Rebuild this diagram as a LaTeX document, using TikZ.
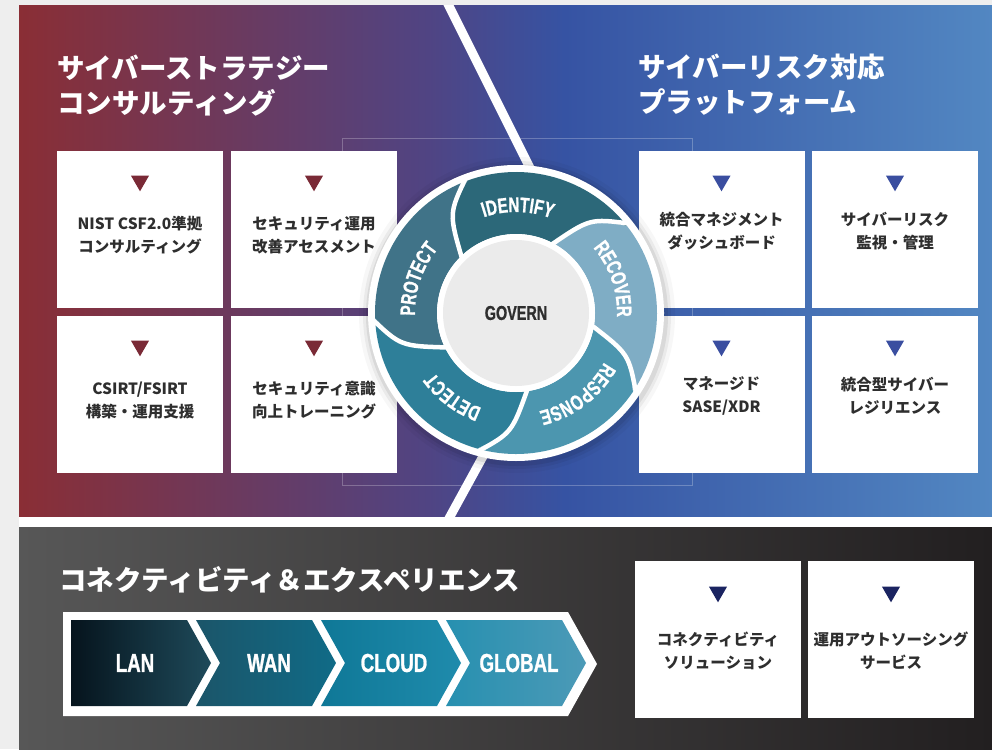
\documentclass[tikz,border=0pt]{standalone}
\usepackage{fontspec}
\setmainfont{Noto Sans CJK JP}
\newfontfamily\condfont{Liberation Sans}[FakeStretch=0.72, FakeBold=1]
\usetikzlibrary{shapes.geometric, decorations.text}

\definecolor{pageGrey}{HTML}{EEEEEE}
\definecolor{panelRed}{HTML}{8A2E35}
\definecolor{panelPurple}{HTML}{504483}
\definecolor{panelBlue}{HTML}{3653A3}
\definecolor{panelSky}{HTML}{5287C2}
\definecolor{darkL}{HTML}{575757}
\definecolor{darkR}{HTML}{221F20}
\definecolor{textGrey}{HTML}{2E2E2E}
\definecolor{triRed}{HTML}{7A2A36}
\definecolor{triBlue}{HTML}{3A4EA0}
\definecolor{triNavy}{HTML}{1B2461}
\definecolor{segIdentify}{HTML}{2C6879}
\definecolor{segRecover}{HTML}{7FADC5}
\definecolor{segResponse}{HTML}{4C96AF}
\definecolor{segDetect}{HTML}{2E7F99}
\definecolor{segProtect}{HTML}{407388}
\definecolor{hubGrey}{HTML}{EBEBEB}
\definecolor{lanL}{HTML}{06141D}
\definecolor{lanR}{HTML}{1E4A5A}
\definecolor{wanL}{HTML}{1B5569}
\definecolor{wanR}{HTML}{106B87}
\definecolor{cloudL}{HTML}{0F7897}
\definecolor{cloudR}{HTML}{1F8BAC}
\definecolor{globL}{HTML}{2790B0}
\definecolor{globR}{HTML}{4C9AB7}

\pgfdeclarehorizontalshading{cyberpanel}{100bp}{color(0bp)=(panelRed); color(25bp)=(panelRed); color(46bp)=(panelPurple); color(53bp)=(panelBlue); color(75bp)=(panelSky); color(100bp)=(panelSky)}

\newcommand{\wheelfont}{\condfont\bfseries\fontsize{21}{21}\selectfont}

\tikzset{
	svcbox/.style={fill=white, minimum width=166pt, minimum height=157pt, inner sep=0pt},
	svctext/.style={text=textGrey, font=\bfseries\fontsize{15.5}{23}\selectfont, align=center, inner sep=0pt},
	marker/.style={regular polygon, regular polygon sides=3, shape border rotate=180, minimum size=21pt, inner sep=0pt},
	heading/.style={text=white, font=\bfseries\fontsize{27.5}{35}\selectfont, align=left, anchor=west, inner sep=0pt},
	chevlabel/.style={text=white, font=\condfont\bfseries\fontsize{26}{26}\selectfont, inner sep=0pt},
}

\begin{document}
\begin{tikzpicture}[x=1pt, y=-1pt]
\useasboundingbox (0,0) rectangle (992,749);

%Background
\fill[pageGrey] (0,0) rectangle (992,749);
\fill[white] (19,516) rectangle (992,527);

%Panels
\shade[shading=cyberpanel] (19,6) rectangle (992,516);
\shade[left color=darkL, right color=darkR] (19,527) rectangle (992,749);

%Divider
\begin{scope}
	\clip (19,6) rectangle (992,516);
	\coordinate (div-top) at (446,0);
	\coordinate (div-apex) at (583,274);
	\coordinate (div-bottom) at (447,522);
	\draw[white, line width=9pt, line join=miter] (div-top) -- (div-apex) -- (div-bottom);
\end{scope}

%Frame
\draw[white, opacity=0.25, line width=0.8pt] (342,138) rectangle (692,485);

%Headings
\node[heading] (strat-head) at (57,86) {サイバーストラテジー\\コンサルティング};
\node[heading] (risk-head) at (638,85) {サイバーリスク対応\\プラットフォーム};
\node[heading] (conn-head) at (59,580) {コネクティビティ＆エクスペリエンス};

%Boxes
\node[svcbox] (csf) at (140,229.5) {};
\node[svcbox] (ops) at (314,229.5) {};
\node[svcbox] (csirt) at (140,394.5) {};
\node[svcbox] (aware) at (314,394.5) {};

\node[svcbox] (dash) at (721.5,229.5) {};
\node[svcbox] (watch) at (895,229.5) {};
\node[svcbox] (sase) at (721.5,394.5) {};
\node[svcbox] (resil) at (895,394.5) {};

\node[svcbox] (conn) at (718,639.5) {};
\node[svcbox] (outs) at (891,639.5) {};

\foreach \b in {csf,ops,csirt,aware}
{
	\node[marker, fill=triRed] (\b-tri) at ([yshift=-30pt]\b.north) {};
}
\foreach \b in {dash,watch,sase,resil}
{
	\node[marker, fill=triBlue] (\b-tri) at ([yshift=-30pt]\b.north) {};
}
\foreach \b in {conn,outs}
{
	\node[marker, fill=triNavy] (\b-tri) at ([yshift=-31pt]\b.north) {};
}

% Box texts
\node[svctext] (csf-txt) at ([yshift=-6pt]csf.center) {NIST CSF2.0準拠\\コンサルティング};
\node[svctext] (ops-txt) at ([yshift=-6pt]ops.center) {セキュリティ運用\\改善アセスメント};
\node[svctext] (csirt-txt) at ([yshift=-6pt]csirt.center) {CSIRT/FSIRT\\構築・運用支援};
\node[svctext] (aware-txt) at ([yshift=-6pt]aware.center) {セキュリティ意識\\向上トレーニング};

\node[svctext] (dash-txt) at ([yshift=-1.5pt]dash.center) {統合マネジメント\\ダッシュボード};
\node[svctext] (watch-txt) at ([yshift=-1.5pt]watch.center) {サイバーリスク\\監視・管理};
\node[svctext] (sase-txt) at ([yshift=-1pt]sase.center) {マネージド\\SASE/XDR};
\node[svctext] (resil-txt) at ([yshift=-1pt]resil.center) {統合型サイバー\\レジリエンス};

\node[svctext] (conn-txt) at ([yshift=-11pt]conn.center) {コネクティビティ\\ソリューション};
\node[svctext] (outs-txt) at ([yshift=-11pt]outs.center) {運用アウトソーシング\\サービス};

%Chevrons
\fill[white] (63,612) -- (568,612) -- (597,664) -- (568,716) -- (63,716) -- cycle;
\foreach \i/\lbl/\cl/\cr in {0/LAN/lanL/lanR, 1/WAN/wanL/wanR, 2/CLOUD/cloudL/cloudR, 3/GLOBAL/globL/globR}
{
	\pgfmathsetmacro{\xa}{71+125*\i}
	\pgfmathsetmacro{\nd}{(\i>0)*24}
	\shade[left color=\cl, right color=\cr] (\xa,620) -- (\xa+116,620) -- (\xa+140,663) -- (\xa+116,706) -- (\xa,706) -- (\xa+\nd,663) -- cycle;
	\node[chevlabel] (net-\lbl) at (\xa+64+\nd*0.375,663) {\lbl};
}

%Wheel
\coordinate (hub) at (516,313);
\foreach \r/\op in {158/0.03,154/0.05,151/0.07}
{
	\fill[black, opacity=\op] ([xshift=1pt,yshift=-2pt]hub) circle (\r);
}
\fill[white] (hub) circle (148);

\begin{scope}[shift={(hub)}]
	% segments
	\foreach \k/\col in {0/segIdentify, 1/segRecover, 2/segResponse, 3/segDetect, 4/segProtect}
	{
		\pgfmathsetmacro{\ang}{72*\k-135}
		\fill[\col] ({\ang}:79) .. controls ({\ang+11}:120) .. ({\ang+25}:141) arc[start angle=\ang+25, end angle=\ang+97, radius=141] .. controls ({\ang+83}:120) .. ({\ang+72}:79) arc[start angle=\ang+72, end angle=\ang, radius=79] -- cycle;
	}
	\foreach \k in {0,...,4}
	{
		\pgfmathsetmacro{\ang}{72*\k-135}
		\draw[white, line width=4.5pt] ({\ang}:76) .. controls ({\ang+11}:120) .. ({\ang+25}:145);
	}
	
	% labels
	\path[decorate, decoration={text along path, text align=center, text color=white, text={|\wheelfont|IDENTIFY}}] (-129:101) arc[start angle=-129, end angle=-49, radius=101];
	\path[decorate, decoration={text along path, text align=center, text color=white, text={|\wheelfont|RECOVER}}] (-59:101) arc[start angle=-59, end angle=21, radius=101];
	\path[decorate, decoration={text along path, text align=center, text color=white, text={|\wheelfont|RESPONSE}}] (13:101) arc[start angle=13, end angle=93, radius=101];
	\path[decorate, decoration={text along path, text align=center, text color=white, text={|\wheelfont|DETECT}}] (87:101) arc[start angle=87, end angle=167, radius=101];
	\path[decorate, decoration={text along path, text align=center, text color=white, text={|\wheelfont|PROTECT}}] (159:101) arc[start angle=159, end angle=239, radius=101];
	
	% hub
	\fill[white] (0,0) circle (79);
	\fill[hubGrey] (0,0) circle (73);
\end{scope}
\node[text=textGrey, font=\condfont\bfseries\fontsize{20}{20}\selectfont, inner sep=0pt] (govern) at (hub) {GOVERN};

\end{tikzpicture}
\end{document}
